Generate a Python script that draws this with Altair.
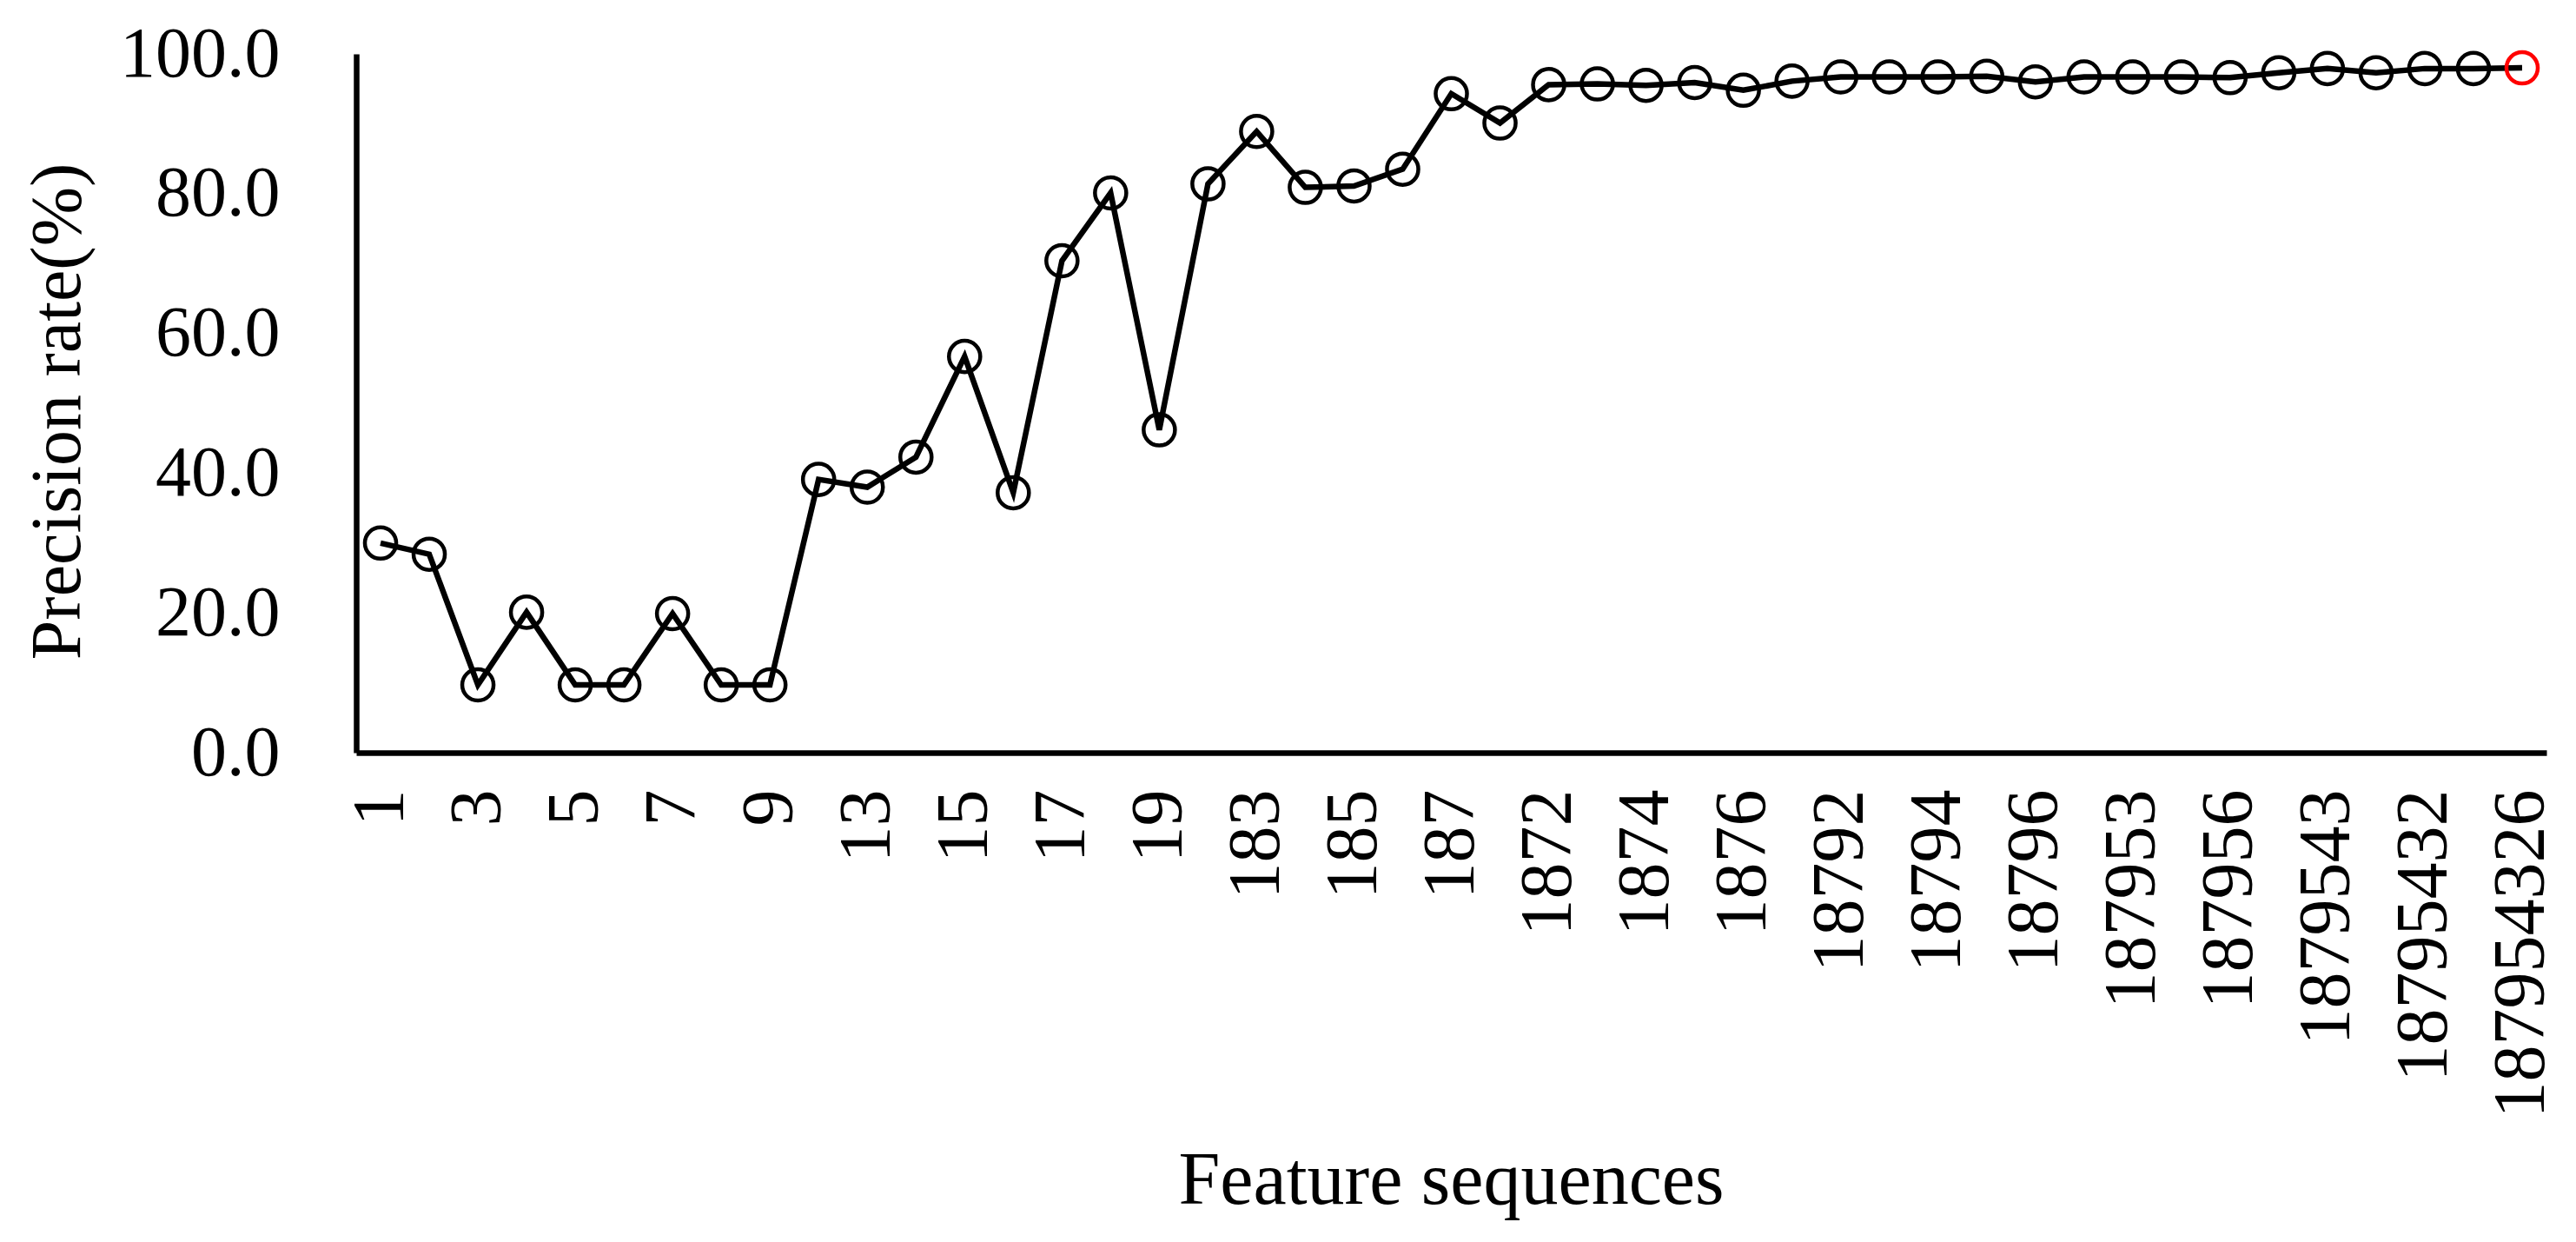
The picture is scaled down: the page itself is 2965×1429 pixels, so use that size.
import altair as alt
import pandas as pd

categories = [
    "1", "2", "3", "4", "5", "6", "7", "8", "9",
    "12", "13", "14", "15", "16", "17", "18", "19",
    "182", "183", "184", "185", "186", "187", "189",
    "1872", "1873", "1874", "1875", "1876", "1879",
    "18792", "18793", "18794", "18795", "18796",
    "187952", "187953", "187954", "187956",
    "1879542", "1879543", "1879546",
    "18795432", "18795436",
    "187954326",
]

precision = [
    30.0, 28.4, 9.7, 20.1, 9.7, 9.7, 19.9, 9.7, 9.7,
    39.1, 38.0, 42.3, 56.7, 37.2, 70.4, 80.1, 46.2,
    81.4, 88.9, 80.9, 81.1, 83.5, 94.3, 90.1,
    95.6, 95.7, 95.5, 95.9, 94.8, 96.1,
    96.7, 96.7, 96.7, 96.8, 96.0,
    96.7, 96.7, 96.7, 96.6,
    97.3, 97.9, 97.3,
    97.9, 97.9,
    98.0,
]

shown_labels = categories[::2]
y_ticks = [0, 20, 40, 60, 80, 100]
best = "187954326"

df = pd.DataFrame({"seq": categories, "rate": precision})

FONT = "Liberation Serif"

x_enc = alt.X(
    "seq:O",
    sort=categories,
    scale=alt.Scale(padding=0.5),
    axis=alt.Axis(
        values=shown_labels,
        labelAngle=-90,
        labelFont=FONT,
        labelFontSize=84,
        labelColor="black",
        labelPadding=42,
        labelLimit=0,
        labelOverlap=False,
        ticks=False,
        domainColor="black",
        domainWidth=6.5,
        title="Feature sequences",
        titleFont=FONT,
        titleFontSize=86,
        titleFontWeight="normal",
        titleColor="black",
        titleX=1260,
        titleY=492,
        titleAlign="center",
        titleBaseline="middle",
    ),
)

y_enc = alt.Y(
    "rate:Q",
    scale=alt.Scale(domain=[0, 100], nice=False),
    axis=alt.Axis(
        values=y_ticks,
        format=".1f",
        labelFont=FONT,
        labelFontSize=82,
        labelColor="black",
        labelPadding=88,
        labelLimit=0,
        labelOverlap=False,
        ticks=False,
        grid=False,
        domainColor="black",
        domainWidth=6.5,
        title="Precision rate(%)",
        titleFont=FONT,
        titleFontSize=82,
        titleFontWeight="normal",
        titleColor="black",
        titleAngle=-90,
        titleX=-344,
        titleY=411,
        titleAlign="center",
        titleBaseline="middle",
    ),
)

line = alt.Chart(df).mark_line(color="black", strokeWidth=6.5).encode(x=x_enc, y=y_enc)

points = alt.Chart(df).mark_point(
    shape="circle", filled=False, size=1300, strokeWidth=4.5, opacity=1
).encode(
    x=alt.X("seq:O", sort=categories),
    y="rate:Q",
    color=alt.condition(alt.datum.seq == best, alt.value("red"), alt.value("black")),
)

chart = (
    alt.layer(line, points)
    .properties(
        width=2521,
        height=804,
        autosize=alt.AutoSizeParams(type="none"),
        padding={"left": 402, "top": 54, "right": 26, "bottom": 555},
        background="white",
    )
    .configure_view(stroke=None)
)

chart.save("out.html", embed_options={"renderer": "svg", "actions": False})
